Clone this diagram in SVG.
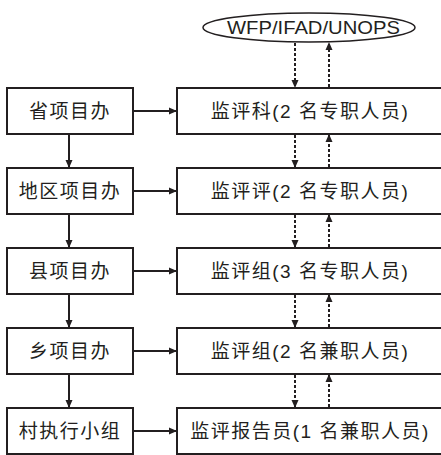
<svg xmlns="http://www.w3.org/2000/svg" width="441" height="455" viewBox="0 0 441 455">
<defs>
<style>
.box{fill:#fff;stroke:#231f20;stroke-width:2}
.t{font-family:"Liberation Sans","Noto Sans CJK SC",sans-serif;font-size:19px;fill:#231f20;letter-spacing:1.5px}
.ln{stroke:#231f20;stroke-width:2;fill:none}
.dl{stroke:#231f20;stroke-width:2;fill:none;stroke-dasharray:3 2}
</style>
<marker id="ah" markerWidth="8" markerHeight="8" refX="7" refY="4" orient="auto" markerUnits="userSpaceOnUse">
<path d="M0,0.5 L8,4 L0,7.5 Z" fill="#231f20"/>
</marker>
</defs>
<rect width="441" height="455" fill="#fff"/>
<g id="connectors">
<line class="ln" x1="69" y1="134" x2="69" y2="167" marker-end="url(#ah)"/>
<line class="ln" x1="69" y1="214" x2="69" y2="247" marker-end="url(#ah)"/>
<line class="ln" x1="69" y1="294" x2="69" y2="327" marker-end="url(#ah)"/>
<line class="ln" x1="69" y1="374" x2="69" y2="407" marker-end="url(#ah)"/>
<line class="ln" x1="134" y1="111" x2="176" y2="111" marker-end="url(#ah)"/>
<line class="ln" x1="134" y1="191" x2="176" y2="191" marker-end="url(#ah)"/>
<line class="ln" x1="134" y1="271" x2="176" y2="271" marker-end="url(#ah)"/>
<line class="ln" x1="134" y1="351" x2="176" y2="351" marker-end="url(#ah)"/>
<line class="ln" x1="134" y1="431" x2="176" y2="431" marker-end="url(#ah)"/>
<line class="dl" x1="295" y1="43" x2="295" y2="87" marker-end="url(#ah)"/>
<line class="dl" x1="329" y1="87" x2="329" y2="43" marker-end="url(#ah)"/>
<line class="dl" x1="295" y1="135" x2="295" y2="167" marker-end="url(#ah)"/>
<line class="dl" x1="329" y1="167" x2="329" y2="135" marker-end="url(#ah)"/>
<line class="dl" x1="295" y1="215" x2="295" y2="247" marker-end="url(#ah)"/>
<line class="dl" x1="329" y1="247" x2="329" y2="215" marker-end="url(#ah)"/>
<line class="dl" x1="295" y1="295" x2="295" y2="327" marker-end="url(#ah)"/>
<line class="dl" x1="329" y1="327" x2="329" y2="295" marker-end="url(#ah)"/>
<line class="dl" x1="295" y1="375" x2="295" y2="407" marker-end="url(#ah)"/>
<line class="dl" x1="329" y1="407" x2="329" y2="375" marker-end="url(#ah)"/>
</g>
<g id="wfp">
<ellipse cx="309" cy="27.5" rx="106" ry="14.5" fill="#fff" stroke="#231f20" stroke-width="1.5"/>
<text x="313.5" y="34" text-anchor="middle" font-family="'Liberation Sans',sans-serif" font-size="18" fill="#231f20" textLength="173" lengthAdjust="spacingAndGlyphs">WFP/IFAD/UNOPS</text>
</g>
<g id="sheng">
<rect class="box" x="7" y="88" width="126" height="46"/>
<text class="t" x="70" y="118" text-anchor="middle">省项目办</text>
</g>
<g id="diqu">
<rect class="box" x="7" y="168" width="126" height="46"/>
<text class="t" x="70" y="198" text-anchor="middle">地区项目办</text>
</g>
<g id="xian">
<rect class="box" x="7" y="248" width="126" height="46"/>
<text class="t" x="70" y="278" text-anchor="middle">县项目办</text>
</g>
<g id="xiang">
<rect class="box" x="7" y="328" width="126" height="46"/>
<text class="t" x="70" y="358" text-anchor="middle">乡项目办</text>
</g>
<g id="cun">
<rect class="box" x="7" y="408" width="126" height="46"/>
<text class="t" x="70" y="438" text-anchor="middle">村执行小组</text>
</g>
<g id="r1">
<rect class="box" x="177" y="88" width="270" height="46"/>
<text class="t" x="310" y="118" text-anchor="middle">监评科(2 名专职人员)</text>
</g>
<g id="r2">
<rect class="box" x="177" y="168" width="270" height="46"/>
<text class="t" x="310" y="198" text-anchor="middle">监评评(2 名专职人员)</text>
</g>
<g id="r3">
<rect class="box" x="177" y="248" width="270" height="46"/>
<text class="t" x="310" y="278" text-anchor="middle">监评组(3 名专职人员)</text>
</g>
<g id="r4">
<rect class="box" x="177" y="328" width="270" height="46"/>
<text class="t" x="310" y="358" text-anchor="middle">监评组(2 名兼职人员)</text>
</g>
<g id="r5">
<rect class="box" x="177" y="408" width="270" height="46"/>
<text class="t" x="310" y="438" text-anchor="middle">监评报告员(1 名兼职人员)</text>
</g>
</svg>
